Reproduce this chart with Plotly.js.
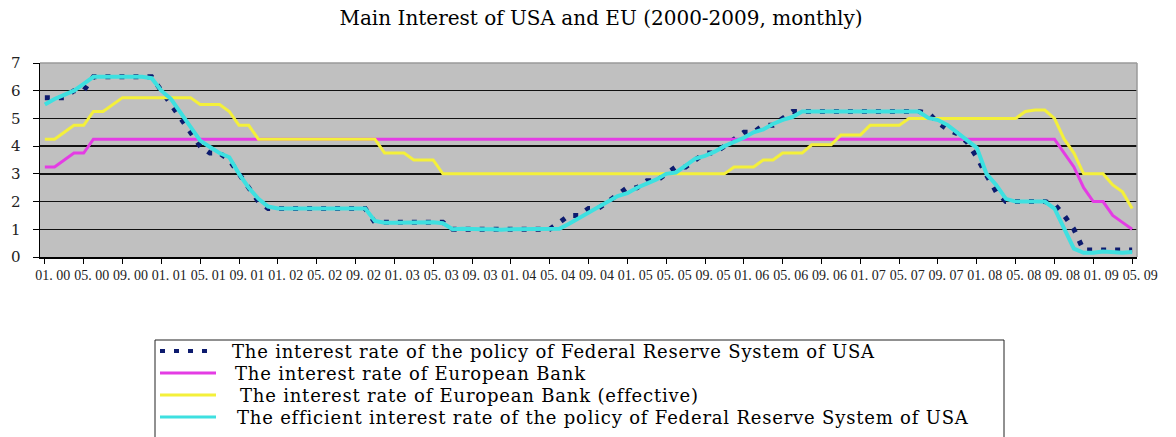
<!DOCTYPE html>
<html>
<head>
<meta charset="utf-8">
<script src="https://cdn.plot.ly/plotly-3.0.1.min.js"></script>
<style>
  html, body { margin: 0; padding: 0; background: #ffffff; }
  #chart { width: 1176px; height: 437px; }
</style>
</head>
<body>
<div id="chart"></div>
<script>
// ---- Data, monthly Jan 2000 .. May 2009 ----
const tickLabels = [
  "01. 00", "05. 00", "09. 00",
  "01. 01", "05. 01", "09. 01",
  "01. 02", "05. 02", "09. 02",
  "01. 03", "05. 03", "09. 03",
  "01. 04", "05. 04", "09. 04",
  "01. 05", "05. 05", "09. 05",
  "01. 06", "05. 06", "09. 06",
  "01. 07", "05. 07", "09. 07",
  "01. 08", "05. 08", "09. 08",
  "01. 09", "05. 09"
];

const seriesNames = [
  "The interest rate of the policy of Federal Reserve System of USA",
  "The interest rate of European Bank",
  "The interest rate of European Bank (effective)",
  "The efficient interest rate of the policy of Federal Reserve System of USA"
];

const fedPolicyRate = [
  5.75, 5.75, 5.75, 6.0, 6.0, 6.5, 6.5, 6.5, 6.5, 6.5, 6.5, 6.5,
  6.0, 5.5, 5.0, 4.5, 4.0, 3.75, 3.75, 3.5, 3.0, 2.5, 2.0, 1.75,
  1.75, 1.75, 1.75, 1.75, 1.75, 1.75, 1.75, 1.75, 1.75, 1.75, 1.25, 1.25,
  1.25, 1.25, 1.25, 1.25, 1.25, 1.25, 1.0, 1.0, 1.0, 1.0, 1.0, 1.0,
  1.0, 1.0, 1.0, 1.0, 1.0, 1.25, 1.5, 1.5, 1.75, 1.75, 2.0, 2.25,
  2.5, 2.5, 2.75, 2.75, 3.0, 3.25, 3.25, 3.5, 3.75, 3.75, 4.0, 4.25,
  4.5, 4.5, 4.75, 4.75, 5.0, 5.25, 5.25, 5.25, 5.25, 5.25, 5.25, 5.25,
  5.25, 5.25, 5.25, 5.25, 5.25, 5.25, 5.25, 5.2, 4.85, 4.6, 4.45, 4.15,
  3.6, 2.95, 2.35, 2.0, 2.0, 2.0, 2.0, 2.0, 1.9, 1.5, 1.0, 0.25,
  0.25, 0.25, 0.25, 0.25, 0.25
];

const ecbRate = [
  3.25, 3.25, 3.5, 3.75, 3.75, 4.25, 4.25, 4.25, 4.25, 4.25, 4.25, 4.25,
  4.25, 4.25, 4.25, 4.25, 4.25, 4.25, 4.25, 4.25, 4.25, 4.25, 4.25, 4.25,
  4.25, 4.25, 4.25, 4.25, 4.25, 4.25, 4.25, 4.25, 4.25, 4.25, 4.25, 4.25,
  4.25, 4.25, 4.25, 4.25, 4.25, 4.25, 4.25, 4.25, 4.25, 4.25, 4.25, 4.25,
  4.25, 4.25, 4.25, 4.25, 4.25, 4.25, 4.25, 4.25, 4.25, 4.25, 4.25, 4.25,
  4.25, 4.25, 4.25, 4.25, 4.25, 4.25, 4.25, 4.25, 4.25, 4.25, 4.25, 4.25,
  4.25, 4.25, 4.25, 4.25, 4.25, 4.25, 4.25, 4.25, 4.25, 4.25, 4.25, 4.25,
  4.25, 4.25, 4.25, 4.25, 4.25, 4.25, 4.25, 4.25, 4.25, 4.25, 4.25, 4.25,
  4.25, 4.25, 4.25, 4.25, 4.25, 4.25, 4.25, 4.25, 4.25, 3.75, 3.25, 2.5,
  2.0, 2.0, 1.5, 1.25, 1.0
];

const ecbEffectiveRate = [
  4.25, 4.25, 4.5, 4.75, 4.75, 5.25, 5.25, 5.5, 5.75, 5.75, 5.75, 5.75,
  5.75, 5.75, 5.75, 5.75, 5.5, 5.5, 5.5, 5.25, 4.75, 4.75, 4.25, 4.25,
  4.25, 4.25, 4.25, 4.25, 4.25, 4.25, 4.25, 4.25, 4.25, 4.25, 4.25, 3.75,
  3.75, 3.75, 3.5, 3.5, 3.5, 3.0, 3.0, 3.0, 3.0, 3.0, 3.0, 3.0,
  3.0, 3.0, 3.0, 3.0, 3.0, 3.0, 3.0, 3.0, 3.0, 3.0, 3.0, 3.0,
  3.0, 3.0, 3.0, 3.0, 3.0, 3.0, 3.0, 3.0, 3.0, 3.0, 3.0, 3.25,
  3.25, 3.25, 3.5, 3.5, 3.75, 3.75, 3.75, 4.05, 4.05, 4.05, 4.4, 4.4,
  4.4, 4.75, 4.75, 4.75, 4.75, 5.0, 5.0, 5.0, 5.0, 5.0, 5.0, 5.0,
  5.0, 5.0, 5.0, 5.0, 5.0, 5.25, 5.3, 5.3, 5.0, 4.25, 3.75, 3.0,
  3.0, 3.0, 2.6, 2.35, 1.75
];

const fedEfficientRate = [
  5.5, 5.7, 5.85, 6.0, 6.25, 6.5, 6.5, 6.5, 6.5, 6.5, 6.5, 6.45,
  6.0, 5.7, 5.2, 4.7, 4.2, 3.97, 3.75, 3.6, 3.0, 2.5, 2.1, 1.82,
  1.75, 1.75, 1.75, 1.75, 1.75, 1.75, 1.75, 1.75, 1.75, 1.75, 1.3, 1.24,
  1.24, 1.25, 1.25, 1.25, 1.25, 1.22, 1.0, 1.02, 1.0, 1.0, 1.0, 0.98,
  1.0, 1.0, 1.0, 1.0, 1.0, 1.02, 1.2, 1.4, 1.6, 1.8, 2.0, 2.2,
  2.3, 2.5, 2.65, 2.8, 3.0, 3.05, 3.3, 3.55, 3.65, 3.8, 4.0, 4.16,
  4.3, 4.5, 4.6, 4.8, 4.95, 5.05, 5.25, 5.25, 5.25, 5.25, 5.25, 5.25,
  5.25, 5.25, 5.25, 5.25, 5.25, 5.25, 5.25, 5.02, 4.94, 4.76, 4.49, 4.2,
  3.94, 3.0, 2.6, 2.1, 2.0, 2.0, 2.0, 2.0, 1.75, 1.0, 0.3, 0.15,
  0.15, 0.2, 0.18, 0.15, 0.18
];

const yTicks = [0, 1, 2, 3, 4, 5, 6, 7];

// ---- Build ----
const monthIndex = fedPolicyRate.map((_, i) => i);
const tickPositions = tickLabels.map((_, k) => k * 4);

const colors = {
  fed: "#0d1b6e",
  ecb: "#e43ce4",
  ecbEff: "#f4f03a",
  fedEff: "#3ee0e0"
};

// drawing order: navy dots underneath, cyan on top (as in the reference)
const traces = [
  { x: monthIndex, y: fedPolicyRate, name: seriesNames[0], type: "scatter", mode: "lines",
    line: { color: colors.fed, width: 5, dash: "5px,9px" }, showlegend: false },
  { x: monthIndex, y: ecbRate, name: seriesNames[1], type: "scatter", mode: "lines",
    line: { color: colors.ecb, width: 3 }, showlegend: false },
  { x: monthIndex, y: ecbEffectiveRate, name: seriesNames[2], type: "scatter", mode: "lines",
    line: { color: colors.ecbEff, width: 3 }, showlegend: false },
  { x: monthIndex, y: fedEfficientRate, name: seriesNames[3], type: "scatter", mode: "lines",
    line: { color: colors.fedEff, width: 4 }, showlegend: false }
];

const W = 1176, H = 437;
const M = { l: 40, r: 39, t: 63, b: 180 };
const PW = W - M.l - M.r, PH = H - M.t - M.b;
const px = v => (v - M.l) / PW;
const py = v => (H - M.b - v) / PH;

// custom legend (box, sample lines, labels)
const legendRows = [351, 373, 395, 417];
const legendTextX = [231, 234, 239, 236];
const legendStyles = [
  { color: colors.fed, width: 4, dash: "5px,9px" },
  { color: colors.ecb, width: 3, dash: "solid" },
  { color: colors.ecbEff, width: 3, dash: "solid" },
  { color: colors.fedEff, width: 3, dash: "solid" }
];

const shapes = [
  { type: "line", xref: "paper", yref: "paper", x0: 0, x1: 1, y0: 1, y1: 1,
    line: { color: "#9a9a9a", width: 1.5 }, layer: "above" },
  { type: "line", xref: "paper", yref: "paper", x0: 1, x1: 1, y0: 0, y1: 1,
    line: { color: "#9a9a9a", width: 1.5 }, layer: "above" },
  { type: "rect", xref: "paper", yref: "paper", x0: px(155), x1: px(1004), y0: py(340), y1: py(470),
    line: { color: "#222", width: 1 }, fillcolor: "rgba(0,0,0,0)" }
];
const annotations = [];
seriesNames.forEach((name, k) => {
  shapes.push({ type: "line", xref: "paper", yref: "paper",
    x0: px(160), x1: px(k === 0 ? 214 : 216), y0: py(legendRows[k]), y1: py(legendRows[k]),
    line: legendStyles[k] });
  annotations.push({ xref: "paper", yref: "paper", x: px(legendTextX[k]), y: py(legendRows[k]),
    xanchor: "left", yanchor: "middle", showarrow: false, borderpad: 0,
    text: '<span style="letter-spacing:0.8px">' + name + '</span>',
    font: { family: "DejaVu Serif", size: 18, color: "#000" } });
});

const layout = {
  width: W, height: H,
  margin: M,
  paper_bgcolor: "#ffffff",
  plot_bgcolor: "#c0c0c0",
  showlegend: false,
  title: {
    text: "Main Interest of USA and EU (2000-2009, monthly)",
    font: { family: "DejaVu Serif", size: 20, color: "#000" },
    xref: "container", yref: "container", x: 601 / W, y: 1 - 18 / H,
    xanchor: "center", yanchor: "middle"
  },
  xaxis: {
    range: [-0.5, monthIndex.length - 0.5],
    tickmode: "array", tickvals: tickPositions, ticktext: tickLabels,
    tickangle: 0, ticks: "outside", ticklen: 5, tickcolor: "#000", tickwidth: 1,
    ticklabelshift: 8,
    tickfont: { family: "Liberation Serif", size: 14, color: "#222" },
    showgrid: false, zeroline: false,
    showline: true, linecolor: "#000", linewidth: 1.5,
    fixedrange: true
  },
  yaxis: {
    range: [0, 7],
    tickmode: "array", tickvals: yTicks, ticktext: yTicks.map(String),
    ticks: "outside", ticklen: 6, tickcolor: "#000", tickwidth: 1,
    ticklabelstandoff: 9,
    tickfont: { family: "DejaVu Serif", size: 15, color: "#222" },
    showgrid: true, gridcolor: "#111", gridwidth: 1.5,
    zeroline: false,
    showline: true, linecolor: "#000", linewidth: 1.5,
    fixedrange: true
  },
  shapes: shapes,
  annotations: annotations
};

Plotly.newPlot("chart", traces, layout, { displayModeBar: false, staticPlot: true });
</script>
</body>
</html>
